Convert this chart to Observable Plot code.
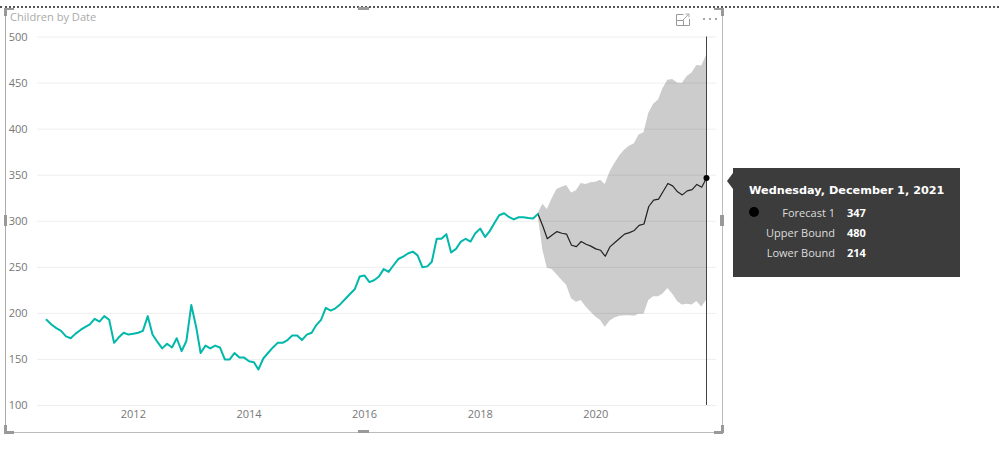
<!DOCTYPE html>
<html>
<head>
<meta charset="utf-8">
<script src="https://cdn.jsdelivr.net/npm/d3@7"></script>
<script src="https://cdn.jsdelivr.net/npm/@observablehq/plot@0.6"></script>
<style>
html,body{margin:0;padding:0;background:#fff;overflow:hidden}
#stage{position:relative;width:999px;height:460px;font-family:"Open Sans",sans-serif}
#chart{position:absolute;left:0;top:0}
.abs{position:absolute}
.h{position:absolute;background:#999}
#tip{position:absolute;left:733px;top:168px;width:227px;height:109px;background:#3c3c3c;color:#fff;font-size:11px}
#tip .row{position:absolute;height:16px;line-height:16px}
</style>
</head>
<body>
<div id="stage"><div id="chart"></div><div id="decor"></div></div>
<script>
const historyStart = "2010-07-01";
const forecastStart = "2019-01-01";
const historyValues = [193,188,184,181,175,173,178,182,185,188,194,191,197,193,168,174,179,177,178,179,181,197,177,169,162,167,163,173,159,170,209,185,157,165,162,165,163,150,150,157,152,152,148,147,139,151,157,163,168,168,171,176,176,171,177,179,187,193,206,203,205.5,210,215.6,221,226.5,240,241,234,236,240,248,245,252,259,261.6,265,267,263,250,251,256,281,281,286,266,270,278,281,278,287,292,283,289,298,306.5,308.7,304.7,302,304.3,304.3,303.5,303,308];
const forecastValues = [308,294.6,281,285,288.8,287,286,274,272.5,278,275,273,270,268.5,262,272.5,277,281.5,286,287.7,290,295.6,297,316,323,324,332,341,338.4,332,328.6,333,334.4,340,337,347];
const upperValues = [308,318.5,312.7,324.6,334.4,337,338.8,330.8,333,341,340,341.7,342.4,344.6,340,353.6,362.7,371,377,381.5,384,393.5,396,417,427,431.5,444,453,454,450,449.6,457,461,469,468.5,480];
const lowerValues = [308,268.5,249,247.5,242,236,230.4,216,212,214,207,201.4,196,192.4,185,191.7,195,197,197.5,197.5,197,199,199,214,218,218,221,227,221,213,209,210,209,213,207,214];
const yTicks = [100,150,200,250,300,350,400,450,500];
const xTickYears = [2012,2014,2016,2018,2020];
const titleText = "Children by Date";
const tipTitle = "Wednesday, December 1, 2021";
const tipLabels = ["Forecast 1","Upper Bound","Lower Bound"];
const tipValues = [347,480,214];

const monthsFrom = (start, n) => d3.range(n).map(i => d3.utcMonth.offset(new Date(start), i));
const hist = monthsFrom(historyStart, historyValues.length).map((date, i) => ({date, v: historyValues[i]}));
const fc = monthsFrom(forecastStart, forecastValues.length).map((date, i) => ({date, v: forecastValues[i], hi: upperValues[i], lo: lowerValues[i]}));
const last = fc[fc.length - 1];

const plot = Plot.plot({
  width: 999, height: 460,
  marginLeft: 37, marginRight: 283, marginTop: 36.5, marginBottom: 55,
  style: {background: "transparent", fontFamily: '"Open Sans",sans-serif', fontSize: "11px", overflow: "visible"},
  x: {type: "utc", domain: [hist[0].date, last.date], range: [46, 706]},
  y: {domain: [100, 500], range: [405, 36.5]},
  marks: [
    Plot.areaY(fc, {x: "date", y1: "lo", y2: "hi", fill: "#cccccc"}),
    Plot.ruleY(yTicks, {stroke: "#000", strokeOpacity: 0.07, strokeWidth: 1}),
    Plot.axisY(yTicks, {anchor: "left", tickSize: 0, tickPadding: 10, label: null, color: "#777", fontSize: 11}),
    Plot.axisX(xTickYears.map(y => new Date(Date.UTC(y, 0, 1))), {anchor: "bottom", tickSize: 0, tickPadding: 5, label: null, tickFormat: d3.utcFormat("%Y"), color: "#777", fontSize: 11}),
    Plot.ruleX([last.date], {y1: 100, y2: 500, stroke: "#444", strokeWidth: 1}),
    Plot.lineY(fc, {x: "date", y: "v", stroke: "#222", strokeWidth: 1.2}),
    Plot.lineY(hist, {x: "date", y: "v", stroke: "#01B8AA", strokeWidth: 2}),
    Plot.dot([last], {x: "date", y: "v", r: 3, fill: "#000"})
  ]
});
document.getElementById("chart").appendChild(plot);

const decor = document.getElementById("decor");
const handles = [
  [0,6,999,0,"border-top:2px dotted #555"],
  [5,8,1,424,"background:#aaa"],[722,8,1,424,"background:#bbb"],[5,432,718,1,"background:#bbb"],
  [4,8,10,2,""],[4,8,3,8,""],[714,8,9,2,""],[721,8,3,8,""],
  [4,431,10,3,""],[4,425,3,8,""],[714,431,9,3,""],[721,425,3,8,""],
  [4,215,3,11,""],[720,215,4,11,""],[358,7,11,3,""],[358,430,11,3,""]
];
decor.innerHTML = handles.map(([l,t,w,h,s]) => `<div class="h" style="left:${l}px;top:${t}px;width:${w}px;height:${h}px;${s}${s.startsWith("border")?";background:none":""}"></div>`).join("")
 + `<div class="abs" style="left:10px;top:9px;font-size:11.1px;line-height:16px;color:#aaa">${titleText}</div>`
 + `<svg class="abs" style="left:674px;top:12px" width="46" height="16" fill="none" stroke="#999"><path d="M9.5 2.5H2.5V13.5H15.5V7"/><path d="M2.5 8.5H9.5V13.5"/><path d="M9 8L15 2M11.5 2H15V5.5" stroke="#aaa"/><g fill="#888" stroke="none"><circle cx="30" cy="7" r="1"/><circle cx="36" cy="7" r="1"/><circle cx="42" cy="7" r="1"/></g></svg>`
 + `<svg class="abs" style="left:727px;top:173px" width="6" height="16"><path d="M6 0V16L0 8Z" fill="#3c3c3c"/></svg>`
 + `<div id="tip"><div class="row" style="left:16px;top:15px;font-family:'DejaVu Sans',sans-serif;font-weight:700;font-size:11.25px;white-space:nowrap">${tipTitle}</div>`
 + `<div class="abs" style="left:16px;top:39px;width:10px;height:10px;border-radius:5px;background:#000"></div>`
 + tipLabels.map((t,i)=>`<div class="row" style="right:125px;top:${37+i*20}px;color:#ddd;white-space:nowrap">${t}</div><div class="row" style="left:114px;top:${37+i*20}px;font-weight:700">${tipValues[i]}</div>`).join("")
 + `</div>`;
</script>
</body>
</html>
